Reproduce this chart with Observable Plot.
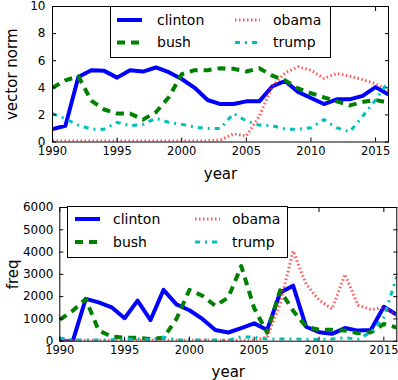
<!DOCTYPE html>
<html><head><meta charset="utf-8">
<script src="https://cdn.jsdelivr.net/npm/d3@7"></script>
<script src="https://cdn.jsdelivr.net/npm/@observablehq/plot@0.6"></script>
<style>
body{margin:0;background:#fff;}
#wrap{position:relative;width:398px;height:380px;overflow:hidden;background:#fff;}
#wrap > svg{position:absolute;left:0;}
</style></head><body><div id="wrap"></div>
<script>
const years = [1990,1991,1992,1993,1994,1995,1996,1997,1998,1999,2000,2001,2002,2003,2004,2005,2006,2007,2008,2009,2010,2011,2012,2013,2014,2015,2016];
const seriesNames = ["clinton","bush","obama","trump"];
const xTicks = [1990,1995,2000,2005,2010,2015];
const normTicks = [0,2,4,6,8,10];
const freqTicks = [0,1000,2000,3000,4000,5000,6000];

const clintonNorm = [0.95,1.2,4.8,5.3,5.25,4.75,5.3,5.2,5.5,5.15,4.65,4.0,3.1,2.8,2.8,3.0,3.0,4.1,4.5,3.7,3.25,2.8,3.15,3.15,3.4,4.05,3.5];
const bushNorm    = [4.0,4.55,4.85,3.05,2.4,2.1,2.1,1.65,2.2,3.3,5.0,5.3,5.3,5.45,5.4,5.2,5.45,4.9,4.55,3.95,3.6,3.3,3.0,2.7,2.95,3.1,2.9];
const obamaNorm   = [0.08,0.08,0.08,0.08,0.08,0.08,0.08,0.08,0.08,0.08,0.08,0.08,0.08,0.15,0.6,0.45,1.9,4.1,5.1,5.55,5.3,4.7,5.05,4.85,4.6,4.3,3.8];
const trumpNorm   = [2.1,1.7,1.25,0.95,0.95,1.45,1.2,1.3,1.75,1.45,1.3,1.1,1.0,1.0,2.1,1.55,1.25,1.2,0.95,0.95,1.05,1.65,1.05,0.75,1.9,3.1,4.5];

const clintonFreq = [0,0,1900,1740,1520,1030,1820,950,2300,1650,1390,1000,505,390,590,800,505,2180,2490,650,400,330,590,475,505,1545,1190];
const bushFreq    = [970,1370,1890,480,210,150,150,100,150,1000,2300,2040,1590,1960,3370,1480,380,2280,1370,650,510,510,480,360,400,775,610];
const obamaFreq   = [40,40,40,40,40,40,40,40,40,40,40,40,40,40,40,40,180,1680,4050,2560,1850,1450,3000,1620,1420,1520,1150];
const trumpFreq   = [150,60,50,50,60,80,100,60,180,60,50,60,50,40,200,180,100,100,100,80,80,100,150,90,400,1070,2900];

const styles = {
  clinton: {stroke:"#0000ff", strokeWidth:4, strokeDasharray:null, strokeOpacity:1},
  bush:    {stroke:"#008000", strokeWidth:4, strokeDasharray:"8,6", strokeOpacity:1},
  obama:   {stroke:"#ff2222", strokeWidth:3, strokeDasharray:"1.5,2.5", strokeOpacity:0.75},
  trump:   {stroke:"#00bfbf", strokeWidth:3, strokeDasharray:"5,5,2,5", strokeOpacity:1}
};

function table(arrs){
  const rows = [];
  seriesNames.forEach((n,i)=>years.forEach((yr,j)=>rows.push({name:n, year:yr, value:arrs[i][j]})));
  return rows;
}

const fam = "'DejaVu Sans', sans-serif";
function chart(opts){
  const data = table(opts.arrs);
  const lines = seriesNames.map(n => Plot.line(data.filter(d=>d.name===n), {
    x:"year", y:"value", clip:true, strokeLinejoin:"round", strokeLinecap:"butt", ...styles[n]
  }));
  return Plot.plot({
    width:398, height:190,
    marginTop:opts.mt, marginRight:opts.mr, marginBottom:opts.mb, marginLeft:opts.ml,
    x:{domain:[1990,2016]}, y:{domain:opts.yDomain},
    style:{fontFamily:fam, fontSize:"12px", color:"black", background:"transparent", overflow:"visible"},
    marks:[
      ...lines,
      Plot.frame({stroke:"black", strokeWidth:1}),
      Plot.axisX({ticks:xTicks, tickSize:-4, tickPadding:9, tickFormat:d=>String(d), label:null, fontSize:11.5}),
      Plot.axisX({anchor:"top", ticks:xTicks, tickSize:-4, tickFormat:()=>"", label:null}),
      Plot.axisY({ticks:opts.yTicks, tickSize:-4, tickPadding:opts.yPad, tickFormat:d=>String(d), label:null, fontSize:12}),
      Plot.axisY({anchor:"right", ticks:opts.yTicks, tickSize:-4, tickFormat:()=>"", label:null}),
      Plot.axisX({ticks:[], label:"year", labelAnchor:"center", labelArrow:"none", labelOffset:opts.xlo, fontSize:15}),
      Plot.axisY({ticks:[], label:opts.yLabel, labelAnchor:"center", labelArrow:"none", labelOffset:opts.ylo, fontSize:15})
    ]
  });
}

const wrap = document.getElementById("wrap");
const top1 = chart({arrs:[clintonNorm,bushNorm,obamaNorm,trumpNorm], yDomain:[0,10], yTicks:normTicks, yLabel:"vector norm",
  mt:6, mr:10, mb:48.5, ml:52, yPad:11, xlo:37, ylo:46});
top1.style.top = "0px";
wrap.appendChild(top1);
const bot = chart({arrs:[clintonFreq,bushFreq,obamaFreq,trumpFreq], yDomain:[0,6000], yTicks:freqTicks, yLabel:"freq",
  mt:17, mr:1.7, mb:39.3, ml:59.3, yPad:10.3, xlo:36, ylo:52});
bot.style.top = "190px";
wrap.appendChild(bot);

// legends
const lg = d3.select(wrap).append("svg").attr("width",398).attr("height",380).style("top","0px")
  .style("font-family", fam).style("font-size","14px");
function legend(box, rows, cols){
  lg.append("rect").attr("x",box[0]+0.5).attr("y",box[1]+0.5).attr("width",box[2]).attr("height",box[3])
    .attr("fill","white").attr("stroke","black").attr("stroke-width",1);
  const order = [["clinton","obama"],["bush","trump"]];
  order.forEach((r,ri)=>r.forEach((n,ci)=>{
    const s = styles[n], c = cols[ci], y = rows[ri];
    lg.append("line").attr("x1",c[0]).attr("x2",c[1]).attr("y1",y).attr("y2",y)
      .attr("stroke",s.stroke).attr("stroke-width",s.strokeWidth).attr("stroke-opacity",s.strokeOpacity)
      .attr("stroke-dasharray",s.strokeDasharray);
    lg.append("text").attr("x",c[2]).attr("y",y).attr("dy","0.35em").attr("fill","black").text(n);
  }));
}
legend([110,6,220,51],[20,42.5],[[117,142,157],[235,260,273]]);
legend([67,206,220,51],[219,242],[[75,100,113],[195,220,232]]);
</script></body></html>
